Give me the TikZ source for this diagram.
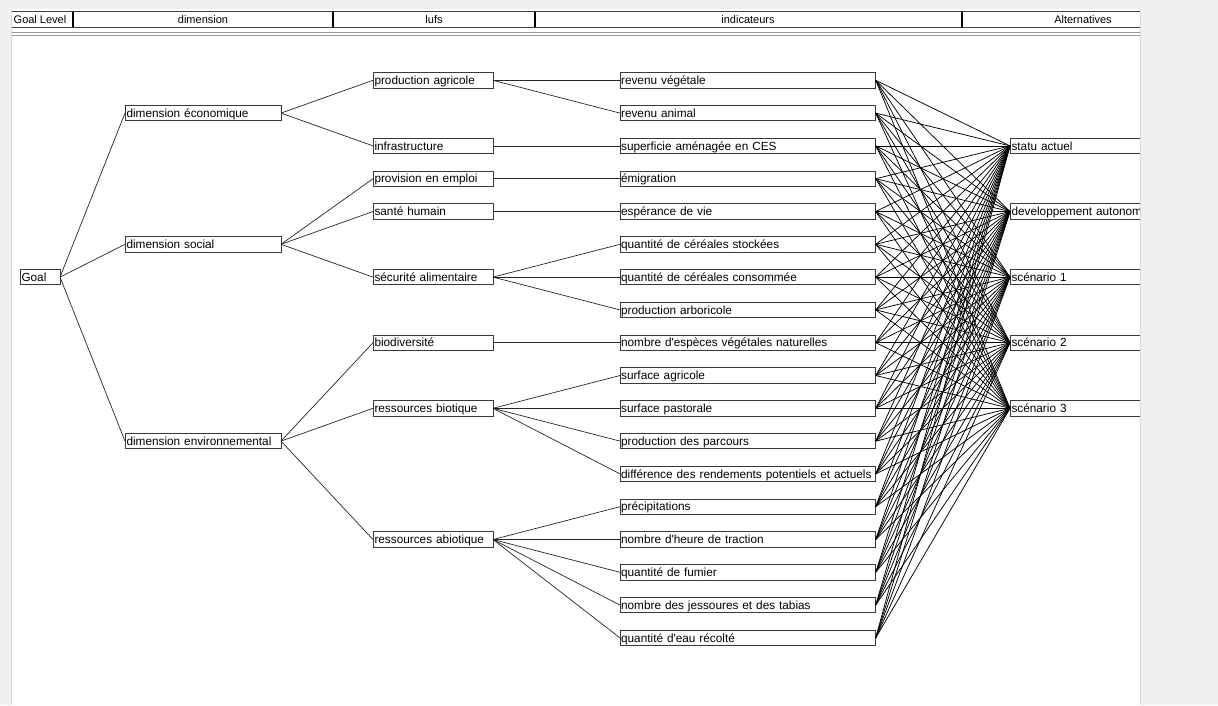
\documentclass[tikz,border=0pt]{standalone}
\usepackage{fontspec}
\setmainfont{Liberation Sans}
\usepackage{xcolor}
\usetikzlibrary{positioning}
\definecolor{wingray}{HTML}{F0F0F0}
\definecolor{boxline}{HTML}{3A3A3A}
\newcommand{\apos}{\textquotesingle}

\begin{document}
\begin{tikzpicture}[
    x=1pt, y=-1pt,
    node distance=17.3pt,
    box/.style={draw=boxline, line width=0.9pt, rectangle, fill=white, outer sep=0pt, minimum height=15.5pt, inner xsep=1.5pt, inner ysep=0pt, text height=11pt, text depth=2.5pt, align=left, font=\fontsize{11.8}{14}\selectfont},
    goalbox/.style={box, text width=37pt},
    dimbox/.style={box, text width=153pt},
    lufbox/.style={box, text width=117pt},
    indbox/.style={box, inner xsep=1.1pt, text width=253.5pt},
    altbox/.style={box, text width=150pt},
    link/.style={draw=black!85, line width=0.7pt},
    headtext/.style={font=\fontsize{11}{13}\selectfont, inner sep=0pt}
]
\useasboundingbox (0,0) rectangle (1218,705);
\fill[wingray] (0,0) rectangle (1218,705);
\fill[white] (12,9) rectangle (1140,705);

% En-tete
\draw[black!75, line width=0.8pt] (12,11.5) -- (1140,11.5);
\draw[black!75, line width=0.8pt] (12,27) -- (1140,27);
\draw[black!40, line width=1pt] (12,32.5) -- (1140,32.5);
\draw[black!40, line width=1pt] (12,35.5) -- (1140,35.5);
\foreach \sx in {73,333,535,962}
  \draw[black, line width=2.5pt] (\sx,11.5) -- (\sx,27);
\node[headtext] (hgoal) at (40,19.5) {Goal Level};
\node[headtext] (hdim) at (203,19.5) {dimension};
\node[headtext] (hluf) at (434,19.5) {lufs};
\node[headtext] (hind) at (748,19.5) {indicateurs};
\node[headtext] (halt) at (1083,19.5) {Alternatives};

% Indicateurs
\node[indbox] (ind1) at (747.85,80.3) {revenu végétale};
\node[indbox, below=of ind1] (ind2) {revenu animal};
\node[indbox, below=of ind2] (ind3) {superficie aménagée en CES};
\node[indbox, below=of ind3] (ind4) {émigration};
\node[indbox, below=of ind4] (ind5) {espérance de vie};
\node[indbox, below=of ind5] (ind6) {quantité de céréales stockées};
\node[indbox, below=of ind6] (ind7) {quantité de céréales consommée};
\node[indbox, below=of ind7] (ind8) {production arboricole};
\node[indbox, below=of ind8] (ind9) {nombre d\apos espèces végétales naturelles};
\node[indbox, below=of ind9] (ind10) {surface agricole};
\node[indbox, below=of ind10] (ind11) {surface pastorale};
\node[indbox, below=of ind11] (ind12) {production des parcours};
\node[indbox, below=of ind12] (ind13) {différence des rendements potentiels et actuels};
\node[indbox, below=of ind13] (ind14) {précipitations};
\node[indbox, below=of ind14] (ind15) {nombre d\apos heure de traction};
\node[indbox, below=of ind15] (ind16) {quantité de fumier};
\node[indbox, below=of ind16] (ind17) {nombre des jessoures et des tabias};
\node[indbox, below=of ind17] (ind18) {quantité d\apos eau récolté};

% lufs
\node[lufbox, left=127pt of ind1] (lprod) {production agricole};
\node[lufbox, left=127pt of ind3] (linfra) {infrastructure};
\node[lufbox, left=127pt of ind4] (lemploi) {provision en emploi};
\node[lufbox, left=127pt of ind5] (lsante) {santé humain};
\node[lufbox, left=127pt of ind7] (lsecu) {sécurité alimentaire};
\node[lufbox, left=127pt of ind9] (lbiodiv) {biodiversité};
\node[lufbox, left=127pt of ind11] (lbiot) {ressources biotique};
\node[lufbox, left=127pt of ind15] (labiot) {ressources abiotique};

% Dimensions et but
\node[dimbox, left=339pt of ind2] (deco) {dimension économique};
\node[dimbox, left=339pt of ind6] (dsoc) {dimension social};
\node[dimbox, left=339pt of ind12] (denv) {dimension environnemental};
\node[goalbox, left=560pt of ind7] (goal) {Goal};

% Alternatives
\node[altbox, right=134.3pt of ind3] (astatu) {statu actuel};
\node[altbox, right=134.3pt of ind5] (adev) {developpement autonom};
\node[altbox, right=134.3pt of ind7] (ascen1) {scénario 1};
\node[altbox, right=134.3pt of ind9] (ascen2) {scénario 2};
\node[altbox, right=134.3pt of ind11] (ascen3) {scénario 3};

% Liens de l'arbre
\draw[link] (goal.east) -- (deco.west);
\draw[link] (goal.east) -- (dsoc.west);
\draw[link] (goal.east) -- (denv.west);
\draw[link] (deco.east) -- (lprod.west);
\draw[link] (deco.east) -- (linfra.west);
\draw[link] (dsoc.east) -- (lemploi.west);
\draw[link] (dsoc.east) -- (lsante.west);
\draw[link] (dsoc.east) -- (lsecu.west);
\draw[link] (denv.east) -- (lbiodiv.west);
\draw[link] (denv.east) -- (lbiot.west);
\draw[link] (denv.east) -- (labiot.west);
\draw[link] (lprod.east) -- (ind1.west);
\draw[link] (lprod.east) -- (ind2.west);
\draw[link] (linfra.east) -- (ind3.west);
\draw[link] (lemploi.east) -- (ind4.west);
\draw[link] (lsante.east) -- (ind5.west);
\draw[link] (lsecu.east) -- (ind6.west);
\draw[link] (lsecu.east) -- (ind7.west);
\draw[link] (lsecu.east) -- (ind8.west);
\draw[link] (lbiodiv.east) -- (ind9.west);
\draw[link] (lbiot.east) -- (ind10.west);
\draw[link] (lbiot.east) -- (ind11.west);
\draw[link] (lbiot.east) -- (ind12.west);
\draw[link] (lbiot.east) -- (ind13.west);
\foreach \k in {14,...,18}
  \draw[link] (labiot.east) -- (ind\k.west);

% Chaque indicateur vers chaque alternative
\foreach \k in {1,...,18}
  \foreach \alt in {astatu,adev,ascen1,ascen2,ascen3}
    \draw[link, draw=black, line width=0.75pt] (ind\k.east) -- (\alt.west);

% Bord droit de la fenetre
\fill[wingray] (1140,0) rectangle (1218,705);
\draw[black!15, line width=1pt] (1140.5,9) -- (1140.5,705);
\draw[black!15, line width=1pt] (11.5,9) -- (11.5,705);
\end{tikzpicture}
\end{document}
